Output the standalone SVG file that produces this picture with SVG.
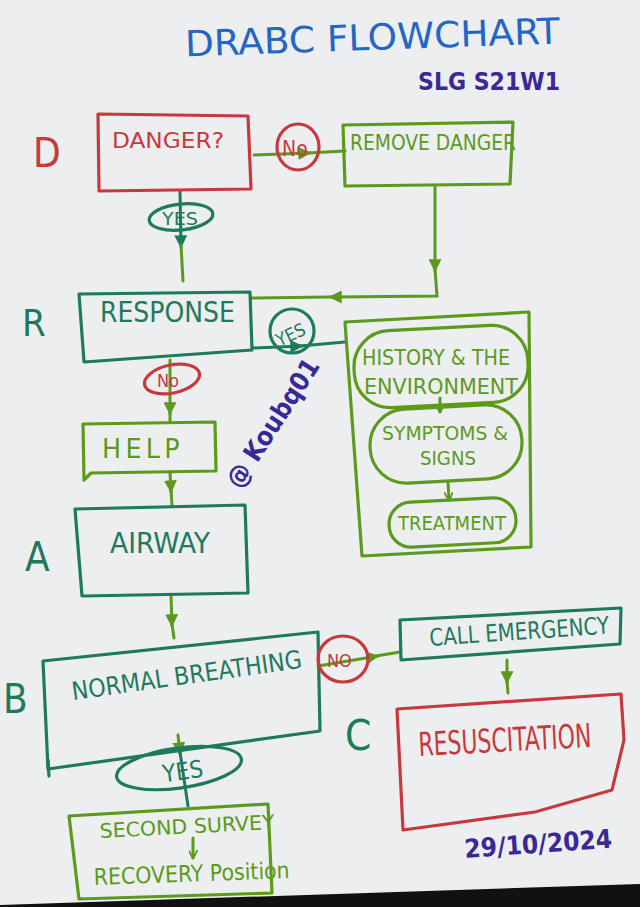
<svg xmlns="http://www.w3.org/2000/svg" width="640" height="907" viewBox="0 0 640 907">
<style>
text{font-family:"DejaVu Sans Condensed","DejaVu Sans","Liberation Sans",sans-serif;}
.box{fill:none;stroke-width:3.2;stroke-linejoin:round;stroke-linecap:round;}
.red{stroke:#c8393d;}
.teal{stroke:#1f7a5c;}
.lime{stroke:#5c9a1c;}
.tred{fill:#c8393d;}
.tteal{fill:#1f7a5c;}
.tlime{fill:#5c9a1c;}
.ln{fill:none;stroke-width:3;stroke-linecap:round;}
</style>
<defs>
<marker id="aT" viewBox="0 0 10 10" refX="9" refY="5" markerWidth="13" markerHeight="13" markerUnits="userSpaceOnUse" orient="auto"><path d="M0,0L10,5L0,10z" fill="#1f7a5c"/></marker>
<marker id="aL" viewBox="0 0 10 10" refX="9" refY="5" markerWidth="13" markerHeight="13" markerUnits="userSpaceOnUse" orient="auto"><path d="M0,0L10,5L0,10z" fill="#5c9a1c"/></marker>
<marker id="aS" viewBox="0 0 10 10" refX="9" refY="5" markerWidth="9" markerHeight="9" markerUnits="userSpaceOnUse" orient="auto"><path d="M0,0L10,5L0,10" fill="none" stroke="#5c9a1c" stroke-width="2"/></marker>
</defs>
<rect width="640" height="907" fill="#eceef0"/>
<polygon points="0,905 640,884 640,907 0,907" fill="#111"/>

<g id="title">
<text x="185" y="50" font-size="36" fill="#2566c4" textLength="375" lengthAdjust="spacingAndGlyphs" transform="rotate(-2 370 40)">DRABC FLOWCHART</text>
<text x="418" y="90" font-size="24" font-weight="bold" fill="#3a2896" textLength="142" lengthAdjust="spacingAndGlyphs">SLG S21W1</text>
</g>

<g id="letters">
<text x="33" y="167" font-size="40" class="tred">D</text>
<text x="22" y="336" font-size="38" class="tteal">R</text>
<text x="25" y="571" font-size="40" class="tteal">A</text>
<text x="3" y="713" font-size="40" class="tteal">B</text>
<text x="345" y="750" font-size="42" class="tteal">C</text>
</g>

<g id="connectors">
<path class="ln lime" d="M254,155 L310,153" marker-end="url(#aL)"/>
<path class="ln lime" d="M308,153 L345,151"/>
<path class="ln lime" d="M435,187 L435,271" marker-end="url(#aL)"/>
<path class="ln lime" d="M435,269 L437,296 L335,297"/>
<path class="ln lime" d="M340,297 L330,297" marker-end="url(#aL)"/>
<path class="ln lime" d="M330,297 L252,298"/>
<path class="ln teal" d="M180,191 L181,247" marker-end="url(#aT)"/>
<path class="ln lime" d="M181,245 L183,281"/>
<path class="ln teal" d="M252,348 L302,346" marker-end="url(#aT)"/>
<path class="ln teal" d="M300,346 L345,342"/>
<path class="ln lime" d="M170,360 L170,414" marker-end="url(#aL)"/>
<path class="ln lime" d="M170,412 L170,422"/>
<path class="ln lime" d="M170,472 L171,492" marker-end="url(#aL)"/>
<path class="ln lime" d="M171,490 L172,506"/>
<path class="ln lime" d="M171,595 L172,626" marker-end="url(#aL)"/>
<path class="ln lime" d="M172,624 L174,638"/>
<path class="ln lime" d="M318,666 L378,656" marker-end="url(#aL)"/>
<path class="ln lime" d="M376,656 L400,652"/>
<path class="ln lime" d="M507,660 L507,683" marker-end="url(#aL)"/>
<path class="ln lime" d="M507,681 L508,693"/>
<path class="ln lime" d="M178,735 L180,754" marker-end="url(#aL)"/>
<path class="ln teal" d="M180,752 L188,806"/>
<path class="ln lime" d="M440,398 L440,412" marker-end="url(#aS)" stroke-width="2"/>
<path class="ln lime" d="M448,482 L449,500" marker-end="url(#aS)" stroke-width="2"/>
<path class="ln lime" d="M193,838 L193,858" marker-end="url(#aS)" stroke-width="2"/>
</g>

<g id="danger">
<path class="box red" d="M98,114 L248,116 L251,189 L99,191 Z"/>
<text x="112" y="148" font-size="22" class="tred" textLength="112" lengthAdjust="spacingAndGlyphs">DANGER?</text>
</g>
<g id="no1">
<ellipse cx="298" cy="147" rx="21" ry="23" class="box red"/>
<text x="282" y="156" font-size="21" class="tred">No</text>
</g>
<g id="remove-danger">
<path class="box lime" d="M343,125 L513,122 L510,184 L345,186 Z"/>
<text x="350" y="150" font-size="21" class="tlime" textLength="166" lengthAdjust="spacingAndGlyphs">REMOVE DANGER</text>
</g>
<g id="yes1">
<ellipse cx="181" cy="217" rx="32" ry="13" class="box teal" transform="rotate(-6 181 217)"/>
<text x="162" y="225" font-size="17" class="tteal" textLength="36" lengthAdjust="spacingAndGlyphs">YES</text>
</g>

<g id="response">
<path class="box teal" d="M79,294 L250,292 L252,350 L84,362 Z"/>
<text x="100" y="322" font-size="28" class="tteal" textLength="135" lengthAdjust="spacingAndGlyphs">RESPONSE</text>
</g>
<g id="yes2">
<ellipse cx="292" cy="331" rx="22" ry="22" class="box teal"/>
<text x="274" y="340" font-size="18" class="tteal" transform="rotate(-25 292 331)">YES</text>
</g>
<g id="no2">
<ellipse cx="172" cy="379" rx="28" ry="14" class="box red" transform="rotate(-12 172 379)"/>
<text x="157" y="387" font-size="18" class="tred">No</text>
</g>

<g id="assessment">
<path class="box lime" d="M345,322 L529,312 L531,547 L362,556 Z"/>
<rect x="354" y="328" width="174" height="77" rx="36" class="box lime" transform="rotate(-3 441 366)"/>
<text x="362" y="365" font-size="21" class="tlime" textLength="148" lengthAdjust="spacingAndGlyphs">HISTORY &amp; THE</text>
<text x="364" y="394" font-size="21" class="tlime" textLength="154" lengthAdjust="spacingAndGlyphs">ENVIRONMENT</text>
<rect x="370" y="407" width="152" height="74" rx="36" class="box lime" transform="rotate(-3 446 444)"/>
<text x="382" y="440" font-size="20" class="tlime" textLength="126" lengthAdjust="spacingAndGlyphs">SYMPTOMS &amp;</text>
<text x="420" y="465" font-size="20" class="tlime" textLength="56" lengthAdjust="spacingAndGlyphs">SIGNS</text>
<rect x="389" y="500" width="127" height="45" rx="22" class="box lime" transform="rotate(-3 452 522)"/>
<text x="398" y="530" font-size="19" class="tlime" textLength="108" lengthAdjust="spacingAndGlyphs">TREATMENT</text>
</g>

<g id="watermark">
<text x="240" y="490" font-size="26" fill="#3a2896" font-weight="bold" transform="rotate(-57 240 490)">@ Koubq01</text>
</g>

<g id="help">
<path class="box lime" d="M83,424 L215,422 L216,471 L91,473 L84,480 Z"/>
<text x="102" y="458" font-size="26" class="tlime" textLength="82" lengthAdjust="spacingAndGlyphs" letter-spacing="4">HELP</text>
</g>

<g id="airway">
<path class="box teal" d="M75,509 L245,505 L248,593 L82,596 Z"/>
<text x="110" y="553" font-size="28" class="tteal" textLength="100" lengthAdjust="spacingAndGlyphs">AIRWAY</text>
</g>

<g id="normal-breathing">
<path class="box teal" d="M43,661 L318,632 L320,731 L48,769 Z"/>
<line x1="48" y1="760" x2="49" y2="776" class="box teal"/>
<text x="73" y="700" font-size="25" class="tteal" textLength="232" lengthAdjust="spacingAndGlyphs" transform="rotate(-8 73 700)">NORMAL BREATHING</text>
</g>
<g id="no3">
<ellipse cx="343" cy="659" rx="25" ry="23" class="box red"/>
<text x="327" y="667" font-size="18" class="tred">NO</text>
</g>

<g id="call-emergency">
<path class="box teal" d="M400,620 L621,608 L620,644 L401,660 Z"/>
<text x="430" y="646" font-size="24" class="tteal" textLength="180" lengthAdjust="spacingAndGlyphs" transform="rotate(-4 430 646)">CALL EMERGENCY</text>
</g>

<g id="resuscitation">
<path class="box red" d="M397,709 L621,694 L624,740 L612,790 L535,812 L403,830 Z"/>
<text x="0" y="0" font-size="33" class="tred" transform="translate(419 756) rotate(-3) scale(0.74 1)">RESUSCITATION</text>
</g>

<g id="yes3">
<ellipse cx="179" cy="768" rx="63" ry="20" class="box teal" transform="rotate(-8 179 768)"/>
<text x="162" y="780" font-size="24" class="tteal" transform="rotate(-8 179 768)">YES</text>
</g>

<g id="second-survey">
<path class="box lime" d="M69,816 L268,804 L272,893 L79,899 Z"/>
<text x="100" y="838" font-size="20" class="tlime" textLength="175" lengthAdjust="spacingAndGlyphs" transform="rotate(-3 100 838)">SECOND SURVEY</text>
<text x="94" y="885" font-size="23" class="tlime" textLength="196" lengthAdjust="spacingAndGlyphs" transform="rotate(-2 94 885)">RECOVERY Position</text>
</g>

<g id="date">
<text x="465" y="858" font-size="26" fill="#3a2896" font-weight="bold" textLength="148" lengthAdjust="spacingAndGlyphs" transform="rotate(-4 465 858)">29/10/2024</text>
</g>
</svg>
